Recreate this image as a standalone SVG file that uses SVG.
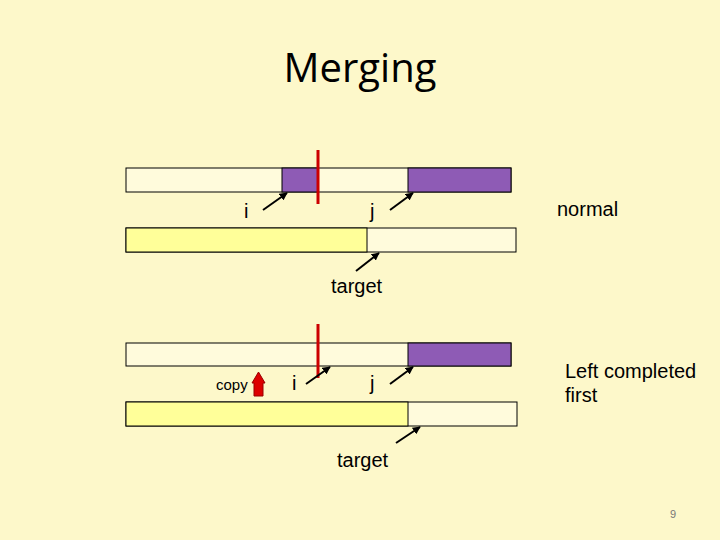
<svg xmlns="http://www.w3.org/2000/svg" width="720" height="540" viewBox="0 0 720 540">
<defs>
<style>
.cell{stroke:#000;stroke-width:1}
.w{fill:#FFFBDC}
.p{fill:#8E5BB5}
.y{fill:#FFFF99}
.ptr{stroke:#000;stroke-width:2;fill:none;marker-end:url(#ah)}
.red{stroke:#CC0000;stroke-width:3}
.lbl{font-family:"Liberation Sans",Arial,sans-serif;font-size:20px;fill:#000}
</style>
<marker id="ah" viewBox="0 0 10 10" refX="9" refY="5" markerWidth="4" markerHeight="4" orient="auto" markerUnits="strokeWidth">
<path d="M0,0 L10,5 L0,10 z" fill="#000"/>
</marker>
</defs>
<rect width="720" height="540" fill="#FDF8CA"/>
<text x="360" y="82" text-anchor="middle" font-family="'Open Sans',sans-serif" font-size="40" fill="#000">Merging</text>

<g id="top-array">
<rect class="cell w" x="126" y="168" width="385" height="24"/>
<rect class="cell p" x="282" y="168" width="36" height="24"/>
<rect class="cell p" x="408" y="168" width="103" height="24"/>
</g>
<g id="top-target">
<rect class="cell w" x="126" y="228" width="390" height="24"/>
<rect class="cell y" x="126" y="228" width="241" height="24"/>
</g>
<g id="top-divider"><line class="red" x1="318" y1="150" x2="318" y2="204"/></g>
<g id="top-labels">
<text class="lbl" x="244" y="218">i</text>
<text class="lbl" x="370" y="218">j</text>
<text class="lbl" x="557" y="216">normal</text>
<text class="lbl" x="331" y="293">target</text>
</g>

<g id="bottom-array">
<rect class="cell w" x="126" y="343" width="385" height="23"/>
<rect class="cell p" x="408" y="343" width="103" height="23"/>
</g>
<g id="bottom-target">
<rect class="cell w" x="126" y="402" width="391" height="24"/>
<rect class="cell y" x="126" y="402" width="282" height="24"/>
</g>
<g id="bottom-divider"><line class="red" x1="318" y1="324" x2="318" y2="378"/></g>
<g id="bottom-labels">
<text x="216" y="390" font-family="'Liberation Sans',Arial,sans-serif" font-size="15" fill="#000">copy</text>
<text class="lbl" x="292" y="390">i</text>
<text class="lbl" x="370" y="390">j</text>
<text class="lbl" x="565" y="378">Left completed</text>
<text class="lbl" x="565" y="402">first</text>
<text class="lbl" x="337" y="467">target</text>
</g>
<g id="copy-arrow">
<path d="M254,396 L254,383 L252,383 L258.5,372 L265,383 L263,383 L263,396 z" fill="#DD0000" stroke="#990000" stroke-width="1"/>
</g>

<g id="connectors">
<line class="ptr" x1="263" y1="210" x2="287" y2="193"/>
<line class="ptr" x1="390" y1="210" x2="413" y2="193"/>
<line class="ptr" x1="356" y1="271" x2="379" y2="253"/>
<line class="ptr" x1="306" y1="384" x2="330" y2="367"/>
<line class="ptr" x1="390" y1="384" x2="413" y2="367"/>
<line class="ptr" x1="396" y1="443" x2="420" y2="427"/>
</g>

<text x="673" y="518" text-anchor="middle" font-family="'Liberation Sans',Arial,sans-serif" font-size="11" fill="#777">9</text>
</svg>
